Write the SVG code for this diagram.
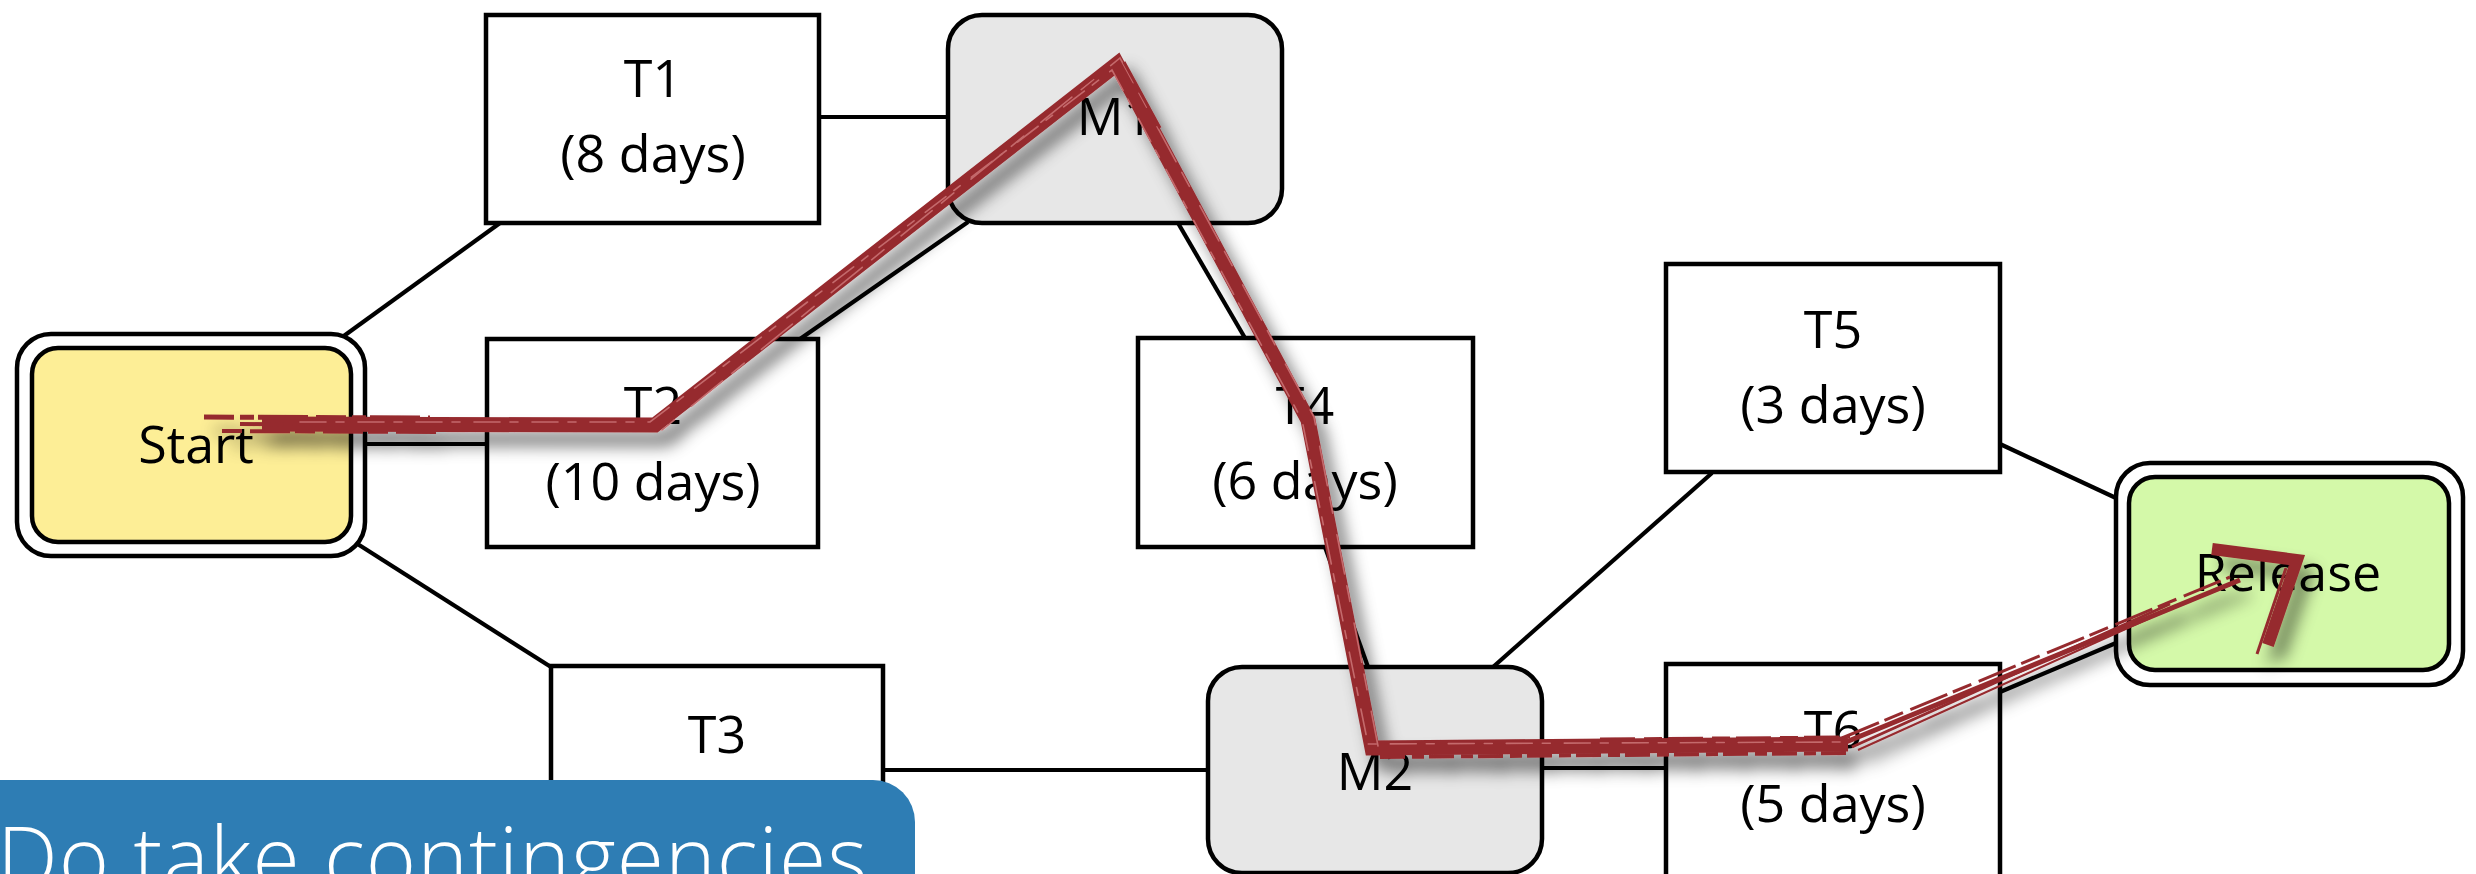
<svg xmlns="http://www.w3.org/2000/svg" width="2476" height="874" viewBox="0 0 2476 874">
  <defs>
    <style>
      .box { fill: #ffffff; stroke: #000; stroke-width: 4.5; }
      .mile { fill: #e7e7e7; stroke: #000; stroke-width: 4.5; }
      .ring { fill: #ffffff; stroke: #000; stroke-width: 4.5; }
      .edge { stroke: #000; stroke-width: 4.2; fill: none; stroke-linecap: butt; }
      .lbl { font-family: "Open Sans", "Liberation Sans", sans-serif; font-size: 52px; fill: #000; text-anchor: middle; }
      .pen { fill: none; stroke: #962a2e; stroke-linejoin: miter; stroke-linecap: butt; }
      .streak { fill: none; stroke: #c46a6c; stroke-width: 1.6; stroke-linecap: round; }
    </style>
    <filter id="penShadow" x="-10%" y="-10%" width="120%" height="130%">
      <feGaussianBlur in="SourceAlpha" stdDeviation="8" result="b"/>
      <feOffset in="b" dx="10" dy="14" result="o"/>
      <feFlood flood-color="#000" flood-opacity="0.5"/>
      <feComposite in2="o" operator="in" result="s"/>
      <feMerge>
        <feMergeNode in="s"/>
        <feMergeNode in="SourceGraphic"/>
      </feMerge>
    </filter>
  </defs>

  <rect width="2476" height="874" fill="#ffffff"/>

  <!-- connectors between nodes -->
  <g id="connectors">
    <line class="edge" x1="341" y1="338" x2="500" y2="223"/>
    <line class="edge" x1="365" y1="444" x2="487" y2="444" stroke-width="5"/>
    <line class="edge" x1="356" y1="543" x2="551" y2="667"/>
    <line class="edge" x1="819" y1="117" x2="948" y2="117"/>
    <line class="edge" x1="968" y1="222" x2="800" y2="339"/>
    <line class="edge" x1="1178" y1="223" x2="1245" y2="338"/>
    <line class="edge" x1="1325" y1="547" x2="1368" y2="667"/>
    <line class="edge" x1="883" y1="770" x2="1208" y2="770"/>
    <line class="edge" x1="1542" y1="768" x2="1666" y2="768"/>
    <line class="edge" x1="1493" y1="667" x2="1712" y2="473"/>
    <line class="edge" x1="2000" y1="444" x2="2116" y2="498"/>
    <line class="edge" x1="2000" y1="692" x2="2116" y2="643"/>
  </g>

  <g id="start">
    <rect class="ring" x="17" y="334" width="348" height="222" rx="34"/>
    <rect x="32" y="348" width="319" height="194" rx="26" fill="#fdee96" stroke="#000" stroke-width="4.5"/>
    <text class="lbl" x="196" y="463">Start</text>
  </g>

  <g id="t1">
    <rect class="box" x="486" y="15" width="333" height="208"/>
    <text class="lbl" x="653" y="97">T1</text>
    <text class="lbl" x="653" y="172">(8 days)</text>
  </g>

  <g id="t2">
    <rect class="box" x="487" y="339" width="331" height="208"/>
    <text class="lbl" x="653" y="424">T2</text>
    <text class="lbl" x="653" y="500">(10 days)</text>
  </g>

  <g id="t3">
    <rect class="box" x="551" y="666" width="332" height="215"/>
    <text class="lbl" x="717" y="753">T3</text>
  </g>

  <g id="m1">
    <rect class="mile" x="948" y="15" width="334" height="208" rx="34"/>
    <text class="lbl" x="1115" y="135">M1</text>
  </g>

  <g id="t4">
    <rect class="box" x="1138" y="338" width="335" height="209"/>
    <text class="lbl" x="1305" y="424">T4</text>
    <text class="lbl" x="1305" y="499">(6 days)</text>
  </g>

  <g id="m2">
    <rect class="mile" x="1208" y="667" width="334" height="206" rx="34"/>
    <text class="lbl" x="1375" y="790">M2</text>
  </g>

  <g id="t5">
    <rect class="box" x="1666" y="264" width="334" height="208"/>
    <text class="lbl" x="1833" y="348">T5</text>
    <text class="lbl" x="1833" y="423">(3 days)</text>
  </g>

  <g id="t6">
    <rect class="box" x="1666" y="664" width="334" height="215"/>
    <text class="lbl" x="1833" y="748">T6</text>
    <text class="lbl" x="1833" y="822">(5 days)</text>
  </g>

  <g id="release">
    <rect class="ring" x="2116" y="463" width="347" height="222" rx="34"/>
    <rect x="2129" y="477" width="320" height="193" rx="26" fill="#d4f9a9" stroke="#000" stroke-width="4.5"/>
    <text class="lbl" x="2288" y="591">Release</text>
  </g>

  <!-- hand-drawn critical path overlay -->
  <g id="critical-path" filter="url(#penShadow)">
    <path class="pen" stroke-width="15" d="M 262 424 L 655 425 L 1117 64 L 1308 420 L 1372 748 L 1848 744"/>
    <path class="pen" stroke-width="5" stroke-dasharray="30 6 14 4 50 8" d="M 204 417 L 430 418"/>
    <path class="pen" stroke-width="4" stroke-dasharray="20 8 40 5" d="M 222 431 L 440 432"/>
    <path class="pen" stroke-width="4" stroke-dasharray="44 9 12 5 60 7" d="M 240 424 L 460 425"/>
    <path class="pen" stroke-width="4" stroke-dasharray="25 7 12 5" d="M 1380 757 L 1850 753"/>
    <path class="pen" stroke-width="3" stroke-dasharray="35 9 18 6" d="M 1600 739 L 1850 737"/>
    <path class="streak" stroke-dasharray="26 10 8 14" d="M 300 422 L 650 422 L 1112 70 L 1302 420 L 1368 744 L 1840 742"/>
    <path class="streak" stroke-dasharray="16 22 40 12" d="M 662 430 L 1120 58 L 1314 417 L 1378 746"/>
    <path class="pen" stroke-width="3" d="M 1105 68 L 940 196 M 1124 62 L 1160 128"/>
    <!-- final leg towards Release, thinner sketched strokes -->
    <path class="pen" stroke-width="5" d="M 1846 742 L 2240 580"/>
    <path class="pen" stroke-width="3" d="M 1852 747 L 2170 604"/>
    <path class="pen" stroke-width="3" stroke-dasharray="40 6 20 8" d="M 1842 738 L 2230 577"/>
    <path class="pen" stroke-width="2" d="M 1858 750 L 2150 618"/>
    <!-- arrow hook -->
    <path class="pen" stroke-width="12" d="M 2212 549 L 2297 560 L 2268 645"/>
    <path class="pen" stroke-width="3" d="M 2286 568 L 2257 654"/>
  </g>

  <!-- callout banner -->
  <g id="callout">
    <rect x="-40" y="780" width="955" height="140" rx="42" fill="#2e7db4"/>
    <text x="-3" y="889" font-family="'Open Sans', 'Liberation Sans', sans-serif" font-weight="300" font-size="86" letter-spacing="1" fill="#ffffff">Do take contingencies</text>
  </g>
</svg>
